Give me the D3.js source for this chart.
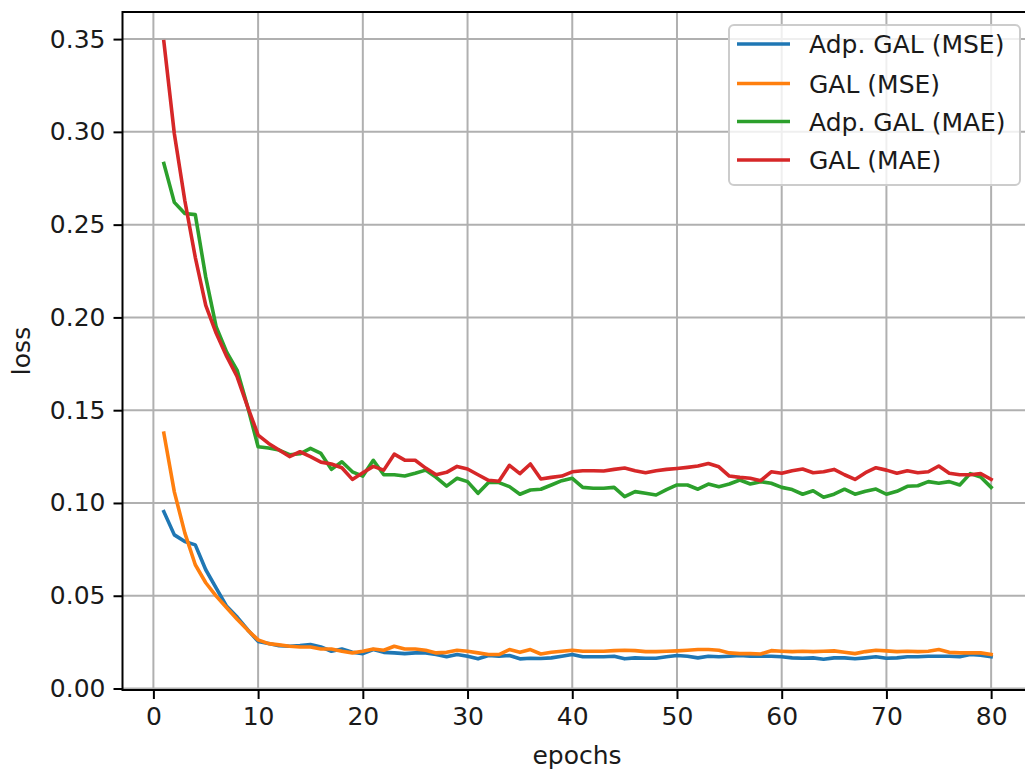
<!DOCTYPE html>
<html>
<head>
<meta charset="utf-8">
<script src="https://cdn.jsdelivr.net/npm/d3@7"></script>
<style>
  html, body { margin: 0; padding: 0; background: #fff; }
  svg { display: block; font-family: "DejaVu Sans", sans-serif; }
</style>
</head>
<body>
<svg id="chart" width="1025" height="769"></svg>
<script>
const epochs = d3.range(1, 81);

const adpGalMse = [
  0.0953, 0.0828, 0.0792, 0.0774, 0.0640, 0.0541, 0.0443, 0.0385, 0.0317, 0.0254,
  0.0242, 0.0231, 0.0228, 0.0231, 0.0237, 0.0224, 0.0201, 0.0213, 0.0195, 0.0188,
  0.0210, 0.0195, 0.0192, 0.0188, 0.0192, 0.0192, 0.0183, 0.0171, 0.0183, 0.0174,
  0.0160, 0.0178, 0.0174, 0.0178, 0.0160, 0.0163, 0.0162, 0.0165, 0.0174, 0.0183,
  0.0171, 0.0171, 0.0171, 0.0174, 0.0160, 0.0165, 0.0163, 0.0163, 0.0171, 0.0178,
  0.0174, 0.0165, 0.0174, 0.0171, 0.0174, 0.0178, 0.0174, 0.0174, 0.0174, 0.0171,
  0.0165, 0.0163, 0.0165, 0.0158, 0.0165, 0.0165, 0.0160, 0.0165, 0.0171, 0.0163,
  0.0165, 0.0171, 0.0171, 0.0174, 0.0174, 0.0174, 0.0171, 0.0183, 0.0180, 0.0171
];

const galMse = [
  0.1376, 0.1060, 0.0839, 0.0667, 0.0570, 0.0498, 0.0435, 0.0373, 0.0315, 0.0262,
  0.0242, 0.0235, 0.0228, 0.0224, 0.0224, 0.0213, 0.0213, 0.0201, 0.0192, 0.0201,
  0.0213, 0.0206, 0.0228, 0.0213, 0.0213, 0.0206, 0.0192, 0.0195, 0.0206, 0.0201,
  0.0192, 0.0183, 0.0183, 0.0210, 0.0195, 0.0210, 0.0186, 0.0195, 0.0201, 0.0206,
  0.0201, 0.0201, 0.0201, 0.0204, 0.0206, 0.0204, 0.0199, 0.0199, 0.0201, 0.0203,
  0.0206, 0.0210, 0.0210, 0.0206, 0.0192, 0.0188, 0.0188, 0.0186, 0.0204, 0.0201,
  0.0199, 0.0201, 0.0199, 0.0201, 0.0203, 0.0195, 0.0188, 0.0199, 0.0206, 0.0203,
  0.0199, 0.0201, 0.0199, 0.0201, 0.0210, 0.0195, 0.0192, 0.0192, 0.0192, 0.0183
];

const adpGalMae = [
  0.2830, 0.2620, 0.2560, 0.2554, 0.2217, 0.1948, 0.1813, 0.1715, 0.1518, 0.1303,
  0.1296, 0.1285, 0.1260, 0.1265, 0.1294, 0.1267, 0.1181, 0.1222, 0.1168, 0.1145,
  0.1230, 0.1152, 0.1152, 0.1145, 0.1160, 0.1177, 0.1138, 0.1091, 0.1133, 0.1115,
  0.1052, 0.1110, 0.1110, 0.1088, 0.1047, 0.1070, 0.1074, 0.1097, 0.1120, 0.1133,
  0.1084, 0.1079, 0.1079, 0.1084, 0.1034, 0.1061, 0.1052, 0.1043, 0.1072, 0.1097,
  0.1097, 0.1074, 0.1102, 0.1088, 0.1102, 0.1124, 0.1102, 0.1115, 0.1106, 0.1084,
  0.1072, 0.1047, 0.1066, 0.1031, 0.1047, 0.1074, 0.1047, 0.1063, 0.1075, 0.1047,
  0.1063, 0.1090, 0.1093, 0.1115, 0.1106, 0.1115, 0.1097, 0.1158, 0.1140, 0.1084
];

const galMae = [
  0.3486, 0.2990, 0.2630, 0.2324, 0.2065, 0.1914, 0.1790, 0.1680, 0.1518, 0.1366,
  0.1321, 0.1285, 0.1250, 0.1276, 0.1250, 0.1220, 0.1210, 0.1190, 0.1127, 0.1163,
  0.1197, 0.1177, 0.1263, 0.1231, 0.1230, 0.1188, 0.1152, 0.1165, 0.1197, 0.1183,
  0.1152, 0.1122, 0.1117, 0.1203, 0.1158, 0.1210, 0.1129, 0.1138, 0.1145, 0.1168,
  0.1174, 0.1174, 0.1172, 0.1181, 0.1188, 0.1174, 0.1163, 0.1174, 0.1181, 0.1186,
  0.1192, 0.1199, 0.1213, 0.1195, 0.1145, 0.1138, 0.1133, 0.1120, 0.1168, 0.1160,
  0.1174, 0.1183, 0.1163, 0.1168, 0.1181, 0.1152, 0.1127, 0.1163, 0.1190, 0.1177,
  0.1160, 0.1174, 0.1163, 0.1168, 0.1199, 0.1160, 0.1152, 0.1152, 0.1158, 0.1127
];

const seriesNames = ["Adp. GAL (MSE)", "GAL (MSE)", "Adp. GAL (MAE)", "GAL (MAE)"];
const seriesColors = ["#1f77b4", "#ff7f0e", "#2ca02c", "#d62728"];
const seriesValues = [adpGalMse, galMse, adpGalMae, galMae];

const xTicks = [0, 10, 20, 30, 40, 50, 60, 70, 80];
const yTicks = [0.00, 0.05, 0.10, 0.15, 0.20, 0.25, 0.30, 0.35];
const xLabel = "epochs";
const yLabel = "loss";

// ---- layout ----
const svg = d3.select("#chart");
const plot = { left: 122.5, right: 1032.5, top: 12, bottom: 690 };
const FS = 25;
const TEXT = "#1a1a1a";

const x = d3.scaleLinear().domain([-2.95, 83.95]).range([plot.left, plot.right]);
const y = d3.scaleLinear().domain([-0.0008, 0.3646]).range([plot.bottom, plot.top]);

const clipId = "plotclip";
svg.append("defs").append("clipPath").attr("id", clipId)
  .append("rect").attr("x", plot.left).attr("y", plot.top)
  .attr("width", plot.right - plot.left).attr("height", plot.bottom - plot.top);

// grid
const grid = svg.append("g");
grid.selectAll(".gx").data(xTicks).join("line")
  .attr("x1", d => x(d)).attr("x2", d => x(d))
  .attr("y1", plot.top).attr("y2", plot.bottom)
  .attr("stroke", "#b0b0b0").attr("stroke-width", 2);
grid.selectAll(".gy").data(yTicks).join("line")
  .attr("x1", plot.left).attr("x2", plot.right)
  .attr("y1", d => y(d)).attr("y2", d => y(d))
  .attr("stroke", "#b0b0b0").attr("stroke-width", 2);

// lines
const line = d3.line().x((d, i) => x(epochs[i])).y(d => y(d));
const lines = svg.append("g").attr("clip-path", `url(#${clipId})`);
seriesValues.forEach((vals, k) => {
  lines.append("path").datum(vals)
    .attr("d", line)
    .attr("fill", "none")
    .attr("stroke", seriesColors[k])
    .attr("stroke-width", 3.6)
    .attr("stroke-linejoin", "round")
    .attr("stroke-linecap", "square");
});

// axes
const xAxis = d3.axisBottom(x).tickValues(xTicks).tickFormat(d3.format("d"))
  .tickSize(9).tickPadding(8);
const yAxis = d3.axisLeft(y).tickValues(yTicks).tickFormat(d3.format(".2f"))
  .tickSize(9).tickPadding(8);

const gx = svg.append("g").attr("transform", `translate(0,${plot.bottom})`).call(xAxis);
const gy = svg.append("g").attr("transform", `translate(${plot.left},0)`).call(yAxis);
[gx, gy].forEach(g => {
  g.select(".domain").remove();
  g.selectAll(".tick line").attr("stroke", "#000").attr("stroke-width", 2);
  g.selectAll(".tick text").attr("fill", TEXT).style("font-size", FS + "px")
    .style("font-family", "'DejaVu Sans', sans-serif");
});

// spines
svg.append("rect")
  .attr("x", plot.left).attr("y", plot.top)
  .attr("width", plot.right - plot.left).attr("height", plot.bottom - plot.top)
  .attr("fill", "none").attr("stroke", "#000").attr("stroke-width", 2);

// axis labels
svg.append("text").attr("x", 577).attr("y", 764)
  .attr("text-anchor", "middle").attr("fill", TEXT).style("font-size", FS + "px")
  .text(xLabel);
svg.append("text")
  .attr("transform", `translate(30,${(plot.top + plot.bottom) / 2}) rotate(-90)`)
  .attr("text-anchor", "middle").attr("fill", TEXT).style("font-size", FS + "px")
  .text(yLabel);

// legend
const leg = svg.append("g");
leg.append("rect").attr("x", 729).attr("y", 25).attr("width", 291).attr("height", 160)
  .attr("rx", 5).attr("fill", "#fff").attr("fill-opacity", 0.8)
  .attr("stroke", "#cccccc").attr("stroke-width", 2);
const rowY = [44, 83.5, 121.5, 160];
seriesNames.forEach((name, k) => {
  leg.append("line").attr("x1", 737).attr("x2", 790)
    .attr("y1", rowY[k]).attr("y2", rowY[k])
    .attr("stroke", seriesColors[k]).attr("stroke-width", 3.6);
  leg.append("text").attr("x", 809).attr("y", rowY[k]).attr("dy", "0.36em")
    .attr("fill", TEXT).style("font-size", FS + "px").text(name);
});
</script>
</body>
</html>
